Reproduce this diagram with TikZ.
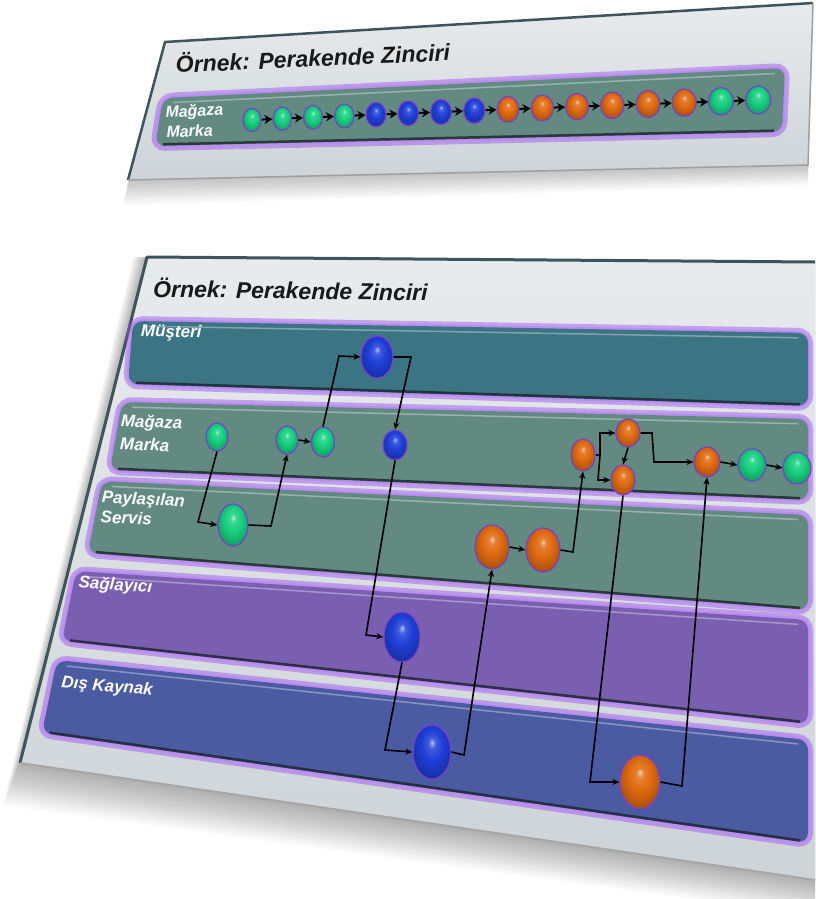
\documentclass[tikz,border=0pt]{standalone}
\usepackage{fontspec}
\setmainfont{Liberation Sans}
\usetikzlibrary{shapes.geometric,arrows.meta,calc}
\definecolor{panelT}{HTML}{E8EBED}
\definecolor{panelB}{HTML}{CDD3D7}
\definecolor{edgec}{HTML}{3E545C}
\definecolor{glowc}{HTML}{9A4CF0}
\definecolor{laneA}{HTML}{3B7483}
\definecolor{laneB}{HTML}{628A80}
\definecolor{laneC}{HTML}{7A5FB1}
\definecolor{laneD}{HTML}{4B5BA2}
\definecolor{laneedge}{HTML}{1E2A30}
\definecolor{gball}{HTML}{18D080}
\definecolor{bball}{HTML}{1F3FD8}
\definecolor{oball}{HTML}{E06A10}
\definecolor{ringc}{HTML}{7A3FD0}
\pgfdeclareradialshading{gsh}{\pgfpoint{0bp}{9bp}}{color(0bp)=(gball!35!white); color(5bp)=(gball!85!white); color(14bp)=(gball); color(26bp)=(gball!80!black); color(34bp)=(gball!50!black); color(50bp)=(gball!50!black)}
\pgfdeclareradialshading{bsh}{\pgfpoint{0bp}{9bp}}{color(0bp)=(bball!35!white); color(5bp)=(bball!85!white); color(14bp)=(bball); color(26bp)=(bball!80!black); color(34bp)=(bball!50!black); color(50bp)=(bball!50!black)}
\pgfdeclareradialshading{osh}{\pgfpoint{0bp}{9bp}}{color(0bp)=(oball!35!white); color(5bp)=(oball!85!white); color(14bp)=(oball); color(26bp)=(oball!80!black); color(34bp)=(oball!50!black); color(50bp)=(oball!50!black)}
\newcommand\lanebox[5]{%
  \draw[glowc, opacity=.45, line width=10pt, rounded corners=10pt] #1--#2--#3--#4--cycle;
  \draw[glowc!65!white, line width=4pt, rounded corners=10pt] #1--#2--#3--#4--cycle;
  \fill[#5, rounded corners=10pt] #1--#2--#3--#4--cycle;
  \draw[laneedge, line width=2.5pt, opacity=.85, shorten <=8pt, shorten >=8pt] ($#4+(0,-1.5)$)--($#3+(0,-1.5)$);
  \draw[white, opacity=.35, line width=1.5pt, shorten <=10pt, shorten >=10pt] ($#1+(0,5)$)--($#2+(0,5)$);
}
\tikzset{
  bub/.style={ellipse, inner sep=0pt, draw=ringc, line width=1.2pt},
  gnode/.style={bub, shade, shading=gsh},
  bnode/.style={bub, shade, shading=bsh},
  onode/.style={bub, shade, shading=osh},
  sz/.style 2 args={minimum width=#1pt, minimum height=#2pt},
  conn/.style={draw=black, line width=1.6pt, -{Stealth[length=7pt,width=6pt]}},
  chainarr/.style={draw=black, line width=2pt, -{Stealth[length=8pt,width=9pt]}},
  lbl/.style={text=white, font=\bfseries\itshape\fontsize{17}{22}\selectfont, align=left, inner sep=0pt},
  ttl/.style={text=black!90, font=\bfseries\itshape\fontsize{23}{26}\selectfont, inner sep=0pt}
}
\begin{document}
\begin{tikzpicture}[x=1pt,y=-1pt]
\useasboundingbox (0,0) rectangle (815,899);
\fill[white] (0,0) rectangle (815,899);
% ---------- top panel ----------
\foreach \k in {1,...,10}
  \fill[black, opacity=.025] (165,42) -- (813,3) -- (808,165+2*\k) -- (128-0.5*\k,180+2.5*\k) -- cycle;
\shade[top color=panelT, bottom color=panelB] (165,42) -- (813,3) -- (808,165) -- (128,180) -- cycle;
\draw[edgec, line width=2.5pt, line join=round] (128,180) -- (165,42) -- (813,3);
\draw[gray!75, line width=1.5pt, line join=round] (813,3) -- (808,165) -- (128,180);
\node[ttl, anchor=base west, rotate=2.6] (t1) at (176,73) {Örnek: Perakende Zinciri};
\lanebox{(163,98)}{(785,68)}{(782,132)}{(155,146)}{laneB}
\node[lbl, anchor=north west, rotate=2.8, font=\bfseries\itshape\fontsize{16}{20}\selectfont] (tl) at (165,106) {Mağaza\\Marka};
\foreach \i/\c in {1/gnode,2/gnode,3/gnode,4/gnode,5/bnode,6/bnode,7/bnode,8/bnode,9/onode,10/onode,11/onode,12/onode,13/onode,14/onode,15/gnode,16/gnode}{
  \pgfmathsetmacro\xx{252+30*(\i-1)+0.25*(\i-1)^2}
  \pgfmathsetmacro\yy{120-20*(\i-1)/15}
  \pgfmathsetmacro\ww{18+7*(\i-1)/15}
  \pgfmathsetmacro\hh{23+5*(\i-1)/15}
  \node[\c, minimum width=\ww pt, minimum height=\hh pt] (c\i) at (\xx,\yy) {};
}
\foreach \i [evaluate=\i as \j using int(\i+1)] in {1,...,15}
  \draw[chainarr] (c\i) -- (c\j);
% ---------- bottom panel ----------
\foreach \k in {1,...,14}
  \fill[black, opacity=.022] (147-\k,257) -- (815,262) -- (815,880+2.5*\k) -- (20-1.2*\k,763+3*\k) -- cycle;
\shade[top color=panelT, bottom color=panelB] (147,257) -- (815,262) -- (815,880) -- (20,763) -- cycle;
\draw[edgec, line width=3pt, line join=round] (20,763) -- (147,257) -- (815,262);
\draw[gray!70, line width=2pt] (20,763) -- (815,880);
\node[ttl, anchor=base west, rotate=-0.8] (t2) at (153,297) {Örnek: Perakende Zinciri};
\lanebox{(133,321)}{(808,333)}{(808,406)}{(128,384)}{laneA}
\lanebox{(122,402)}{(808,419)}{(808,500)}{(110,470)}{laneB}
\lanebox{(102,481)}{(808,515)}{(808,610)}{(88,553)}{laneB}
\lanebox{(76,571)}{(808,620)}{(808,724)}{(62,641)}{laneC}
\lanebox{(57,660)}{(808,740)}{(808,843)}{(42,733)}{laneD}
\node[lbl, anchor=north west, rotate=-1.2] (l1) at (141,324) {Müşteri};
\node[lbl, anchor=north west, rotate=-2, font=\bfseries\itshape\fontsize{17}{23}\selectfont] (l2) at (121,414) {Mağaza\\Marka};
\node[lbl, anchor=north west, rotate=-3, font=\bfseries\itshape\fontsize{17}{20}\selectfont] (l3) at (102,490) {Paylaşılan\\Servis};
\node[lbl, anchor=north west, rotate=-4] (l4) at (79,575) {Sağlayıcı};
\node[lbl, anchor=north west, rotate=-5] (l5) at (62,675) {Dış Kaynak};
% nodes
\node[bnode, sz={32}{42}] (mu) at (377,357) {};
\node[gnode, sz={22}{28}] (m1) at (217,437) {};
\node[gnode, sz={22}{28}] (m2) at (287,440) {};
\node[gnode, sz={23}{30}] (m3) at (323,442) {};
\node[bnode, sz={24}{30}] (m4) at (395,445) {};
\node[onode, sz={24}{32}] (m5) at (583,455) {};
\node[onode, sz={24}{28}] (m6) at (628,433) {};
\node[onode, sz={24}{30}] (m7) at (623,480) {};
\node[onode, sz={26}{30}] (m8) at (707,462) {};
\node[gnode, sz={28}{32}] (m9) at (752,465) {};
\node[gnode, sz={28}{32}] (m10) at (797,468) {};
\node[gnode, sz={30}{42}] (p1) at (233,525) {};
\node[onode, sz={34}{44}] (p2) at (492,547) {};
\node[onode, sz={34}{44}] (p3) at (543,550) {};
\node[bnode, sz={36}{50}] (s1) at (402,637) {};
\node[bnode, sz={38}{54}] (d1) at (432,752) {};
\node[onode, sz={40}{54}] (d2) at (640,782) {};
% connectors
\draw[conn] (m1.south) -- (198,522) -- (p1.west);
\draw[conn] (p1.east) -- (271,526) -- (m2.south);
\draw[conn] (m2.east) -- (m3.west);
\draw[conn] (m3.north) -- (339,356) -- (mu.west);
\draw[conn] (mu.east) -- (411,357) -- (m4.north);
\draw[conn] (m4.south) -- (366,635) -- (s1.west);
\draw[conn] (s1.south) -- (385,750) -- (d1.west);
\draw[conn] (d1.east) -- (464,755) -- (p2.south);
\draw[conn] (p2.east) -- (p3.west);
\draw[conn] (p3.east) -- (573,552) -- (m5.south);
\draw[conn] (m5.east) -- (600,455) -- (600,433) -- (m6.west);
\draw[conn] (600,455) -- (598,480) -- (m7.west);
\draw[conn] (m6.south) -- (m7.north);
\draw[conn] (m6.east) -- (652,433) -- (654,462) -- (m8.west);
\draw[conn] (m7.south) -- (590,782) -- (d2.west);
\draw[conn] (d2.east) -- (682,786) -- (m8.south);
\draw[conn] (m8.east) -- (m9.west);
\draw[conn] (m9.east) -- (m10.west);
\end{tikzpicture}
\end{document}
